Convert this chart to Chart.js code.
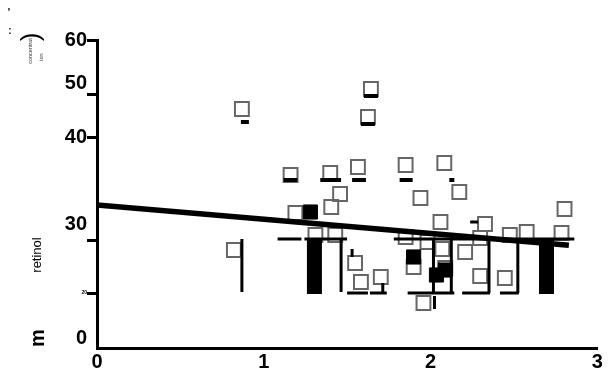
<!DOCTYPE html>
<html><head><meta charset="utf-8">
<script src="https://cdn.jsdelivr.net/npm/chart.js@4/dist/chart.umd.min.js"></script>
<style>html,body{margin:0;padding:0;background:#fff}canvas{display:block}</style>
</head><body>
<canvas id="c" width="609" height="377"></canvas>
<script>
// ---- data ----
const xTickValues = [0, 1, 2, 3];
const xTickLabels = ['0', '1', '2', '3'];
const yTickValues = [60, 51.6, 49.3, 41, 24, 21, 10.7, 1.9];
const yTickLabels = ['60', '50', '', '40', '30', '', '20', '0'];
const yTickMarks  = [true, false, true, true, false, true, true, false];

const openX = [0.869,1.643,1.625,0.821,1.161,1.399,1.565,1.851,2.083,1.458,1.940,2.173,1.190,1.405,2.804,2.060,2.327,1.310,1.429,1.851,1.982,2.071,2.208,2.298,2.476,2.577,2.786,1.548,1.583,1.702,1.899,2.089,2.298,2.446,1.958];
const openY = [46.56,50.45,45.0,19.09,33.7,34.09,35.26,35.65,36.04,30.0,29.22,30.39,26.3,27.47,27.08,24.55,24.16,22.01,22.01,21.62,20.65,19.29,18.7,21.43,22.01,22.6,22.4,16.56,12.86,13.83,15.78,15.58,14.03,13.64,8.77];

const filledX = [1.280, 1.899, 2.089, 2.036];
const filledY = [26.49, 17.73, 15.19, 14.22];

const regX = [0, 2.83];
const regY = [27.86, 20.0];

// short thick dashes under squares
const dashX1 = [0.863,1.601,1.583,1.119,1.339,1.530,1.815,2.113];
const dashX2 = [0.911,1.685,1.667,1.202,1.464,1.613,1.893,2.143];
const dashY  = [44.03,49.09,43.64,32.73,32.73,32.73,32.73,32.73];

// thin line segments
const thinX1 = [1.083,1.244,1.780, 1.5,1.637,1.863,2.190,2.417, 0.869,1.464,2.018,2.125,2.351,2.524,2.024,1.530,1.714, 2.238];
const thinX2 = [1.226,1.5,2.863, 1.625,1.738,2.143,2.357,2.530, 0.869,1.464,2.018,2.125,2.351,2.524,2.024,1.530,1.714, 2.286];
const thinY1 = [21.23,21.23,21.23, 10.71,10.71,10.71,10.71,10.71, 21.23,21.23,21.23,21.23,21.23,21.23,10.13,19.29,12.66, 24.55];
const thinY2 = [21.23,21.23,21.23, 10.71,10.71,10.71,10.71,10.71, 10.91,10.91,10.71,10.71,10.71,10.71,7.6,17.73,10.91, 24.55];

// thick black bars
const barX  = [1.304, 2.696];
const barY1 = [21.23, 21.43];
const barY2 = [10.52, 10.52];

// ---- build ----
function segs(x1, y1, x2, y2) {
  const out = [];
  for (let i = 0; i < x1.length; i++) {
    out.push({x: x1[i], y: y1[i]}, {x: x2[i], y: y2[i]}, {x: x2[i], y: null});
  }
  return out;
}
const FONT = 'Liberation Sans, Arial, sans-serif';

const titles = {
  id: 'titles',
  afterDraw(chart) {
    const ctx = chart.ctx;
    function rot(text, x, y, font, color) {
      ctx.save();
      ctx.translate(x, y);
      ctx.rotate(-Math.PI / 2);
      ctx.font = font;
      ctx.fillStyle = color || '#000';
      ctx.textAlign = 'center';
      ctx.textBaseline = 'middle';
      ctx.fillText(text, 0, 0);
      ctx.restore();
    }
    rot('retinol', 37, 255, '13px ' + FONT);
    rot('concentrat', 30, 51, '5.5px ' + FONT, '#333');
    rot('ion', 41, 57, '5.5px ' + FONT, '#333');
    rot(')', 32, 37, '26px ' + FONT);
    rot('m', 38, 338, 'bold 20px ' + FONT);
    ctx.save();
    ctx.font = 'bold 10px ' + FONT;
    ctx.fillStyle = '#000';
    ctx.textAlign = 'center';
    ctx.textBaseline = 'middle';
    ctx.fillText("'", 9, 13);
    ctx.fillText(':', 10, 31);
    ctx.restore();
  }
};

new Chart(document.getElementById('c'), {
  type: 'scatter',
  data: {
    datasets: [
      { label: 'regression', type: 'line', data: regX.map((x, i) => ({x, y: regY[i]})),
        borderColor: '#000', borderWidth: 5.5, pointRadius: 0, fill: false, order: 0 },
      { label: 'filled', data: filledX.map((x, i) => ({x, y: filledY[i]})),
        pointStyle: 'rect', pointRadius: 10, backgroundColor: '#000', borderColor: '#000', borderWidth: 1, order: 1 },
      { label: 'dashes', type: 'line', data: segs(dashX1, dashY, dashX2, dashY),
        borderColor: '#000', borderWidth: 4, pointRadius: 0, spanGaps: false, fill: false, borderCapStyle: 'butt', order: 2 },
      { label: 'thin', type: 'line', data: segs(thinX1, thinY1, thinX2, thinY2),
        borderColor: '#000', borderWidth: 3, pointRadius: 0, spanGaps: false, fill: false, borderCapStyle: 'butt', order: 3 },
      { label: 'bars', type: 'line', data: segs(barX, barY1, barX, barY2),
        borderColor: '#000', borderWidth: 15, pointRadius: 0, spanGaps: false, fill: false, borderCapStyle: 'butt', order: 4 },
      { label: 'open', data: openX.map((x, i) => ({x, y: openY[i]})),
        pointStyle: 'rect', pointRadius: 9.8, backgroundColor: 'rgba(255,255,255,0)', borderColor: '#666', borderWidth: 2, order: 5 }
    ]
  },
  options: {
    responsive: false,
    animation: false,
    layout: { padding: { top: 40, right: 8, bottom: 0, left: 0 } },
    plugins: { legend: { display: false }, tooltip: { enabled: false } },
    scales: {
      x: {
        type: 'linear', min: 0, max: 3,
        afterBuildTicks: s => { s.ticks = xTickValues.map(v => ({value: v})); },
        afterFit: s => { s.height = 29; },
        border: { display: true, color: '#000', width: 3 },
        grid: { display: false, drawTicks: false },
        ticks: { autoSkip: false, maxRotation: 0, padding: 2, color: '#000',
          font: { family: FONT, weight: 'bold', size: 20 },
          callback: (v, i) => xTickLabels[i] }
      },
      y: {
        type: 'linear', min: 0, max: 60,
        afterBuildTicks: s => { s.ticks = yTickValues.map(v => ({value: v})); },
        afterFit: s => { s.width = 97; },
        border: { display: true, color: '#000', width: 3 },
        grid: { display: true, drawOnChartArea: false, drawTicks: true, tickLength: 10, tickWidth: 3,
          tickColor: c => yTickMarks[c.index] ? '#000' : 'rgba(0,0,0,0)' },
        ticks: { autoSkip: false, padding: 0, color: '#000',
          font: c => ({ family: FONT, weight: 'bold', size: (c.tick && c.tick.value === 10.7) ? 5 : 20 }),
          callback: (v, i) => yTickLabels[i] }
      }
    }
  },
  plugins: [titles]
});
</script>
</body></html>
